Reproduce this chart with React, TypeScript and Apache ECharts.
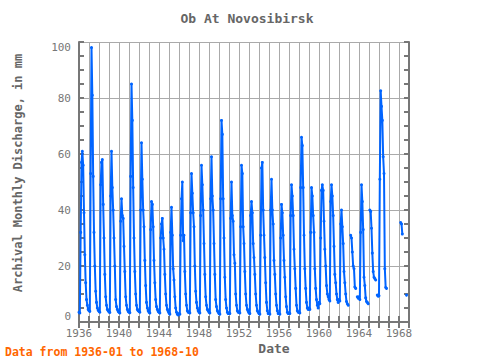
import React, { useEffect, useRef } from "react";
import * as echarts from "echarts";

const START_YEAR = 1936;
const X_MIN = 1936;
const X_MAX = 1969;
const Y_MIN = 0;
const Y_MAX = 100;
const LABEL_YEARS = [1936, 1940, 1944, 1948, 1952, 1956, 1960, 1964, 1968];

// Monthly values, Jan..Dec, null = missing
const d1936_1941 = [
  3.5, 3.2, 32, 57, 61, 56, 39, 24, 14, 8, 6, 4.5,
  4, 3.8, 53, 98, 81, 52, 32, 20, 11, 7, 5, 4.2,
  3.8, 3.5, 49, 57, 58, 42, 30, 17, 9, 6, 4.5, 4,
  3.6, 3.4, 45, 61, 48, 40, 30, 20, 8, 5.5, 4.5, 3.8,
  3.5, 3.2, 36, 44, 38, 37, 27, 18, 9, 6, 4.5, 3.8,
  3.5, 3.3, 52, 85, 72, 48, 30, 18, 10, 6, 4.5, 4,
];
const d1942_1947 = [
  3.8, 3.5, 40, 64, 51, 40, 34, 22, 13, 7, 5, 4,
  3.5, 3.2, 33, 43, 42, 34, 22, 14, 8, 5.5, 4.5, 3.8,
  3.5, 3.2, 30, 35, 37, 30, 26, 17, 10, 6, 4.5, 3.8,
  3.2, 2.8, 32, 41, 31, 19, 15, 9, 5, 3.5, 2.8, 2.5,
  3, 2.8, 31, 44, 50, 29, 31, 18, 10, 6, 4, 3.5,
  3.5, 3.2, 39, 53, 46, 39, 34, 20, 11, 7, 5, 4,
];
const d1948_1953 = [
  3.5, 3.2, 38, 56, 49, 40, 28, 17, 9, 6, 4.5, 4,
  3.5, 3.2, 44, 59, 45, 40, 28, 17, 8, 5.5, 4, 3.5,
  3, 2.8, 44, 72, 67, 44, 30, 16, 8, 5, 3.5, 3,
  3.2, 3, 37, 50, 38, 36, 24, 21, 10, 6, 4, 3.5,
  3.5, 3.2, 34, 56, 53, 34, 28, 18, 10, 6, 4.5, 3.8,
  3.2, 3, 38, 43, 39, 28, 23, 17, 10, 6, 4, 3.5,
];
const d1954_1959 = [
  3, 2.8, 31, 55, 57, 40, 31, 23, 14, 7, 4, 3,
  3, 2.8, 40, 51, 40, 35, 22, 17, 10, 6, 4, 3,
  3, 2.8, 30, 42, 39, 31, 22, 16, 9, 5.5, 3.5, 3,
  3.2, 3, 38, 49, 45, 38, 26, 19, 12, 6, 4, 3.5,
  3.5, 3.2, 48, 66, 63, 48, 31, 19, 12, 7, 5, 4.5,
  5, 4.5, 32, 48, 45, 38, 32, 19, 12, 8, 6, 5,
];
const d1960_1964 = [
  7, 6.5, 30, 47, 49, 47, 36, 26, 20, 13, 10, 9,
  8, 7.5, 43, 49, 45, 38, 27, 17, 14, 10, 8, 7,
  8, 7.5, 35, 40, 34, 28, 18, 14, 10, 7.3, 6.5, 6,
  null, null, 31, 30, 25, 20, 19, 12.5, 12, null, 9, 8.5,
  9, 8, 32, 49, 43, 33, 16, 13, 8.6, 7.3, 7, 6.5,
];
const d1965_1968 = [
  null, 40, 39.5, 33.5, 24.6, 18, 16, 15.5, 15, null, 9.6, 9.2,
  9.4, 51, 82.6, 77, 72, 59, 53, 19, 12.3, 12, null, null,
  null, null, null, null, null, null, null, null, null, null, null, null,
  null, null, 35.5, 35, 31.4, null, null, null, null, 9.6,
];

const discharge: (number | null)[] = [
  ...d1936_1941,
  ...d1942_1947,
  ...d1948_1953,
  ...d1954_1959,
  ...d1960_1964,
  ...d1965_1968,
];

const MONO = '"DejaVu Sans Mono", monospace';

export default function App() {
  const ref = useRef<HTMLDivElement>(null);

  useEffect(() => {
    if (!ref.current) return;
    const chart = echarts.init(ref.current, undefined, { renderer: "svg" });
    const points = discharge.map((v, i) => [START_YEAR + i / 12, v]);

    const frame = { show: true, lineStyle: { color: "#777", width: 2 } };
    const tick = { show: true, inside: true, length: 6, lineStyle: { color: "#777", width: 2 } };
    const ytick = { show: true, inside: true, length: 5, lineStyle: { color: "#777", width: 2 } };

    chart.setOption({
      animation: false,
      backgroundColor: "#fff",
      grid: { left: 79, right: 71, top: 42, bottom: 38, containLabel: false },
      xAxis: [
        {
          type: "value",
          min: X_MIN,
          max: X_MAX,
          interval: 1,
          position: "bottom",
          axisLine: frame,
          axisTick: tick,
          splitLine: { show: true, lineStyle: { color: "#aaa", width: 1 } },
          axisLabel: {
            show: true,
            margin: 6,
            color: "#777",
            fontFamily: MONO,
            fontSize: 11,
            formatter: (v: number) => (LABEL_YEARS.includes(v) ? String(v) : ""),
          },
        },
        {
          type: "value",
          min: X_MIN,
          max: X_MAX,
          interval: 1,
          position: "top",
          axisLine: frame,
          axisTick: tick,
          splitLine: { show: false },
          axisLabel: { show: false },
        },
      ],
      yAxis: [
        {
          type: "value",
          min: Y_MIN,
          max: Y_MAX,
          interval: 20,
          position: "left",
          axisLine: frame,
          axisTick: ytick,
          minorTick: { show: true, splitNumber: 4, length: 5, lineStyle: { color: "#777", width: 2 } },
          splitLine: { show: true, lineStyle: { color: "#aaa", width: 1 } },
          axisLabel: {
            margin: 8,
            color: "#777",
            fontFamily: MONO,
            fontSize: 11,
            verticalAlignMinLabel: "bottom",
            verticalAlignMaxLabel: "top",
          },
        },
        {
          type: "value",
          min: Y_MIN,
          max: Y_MAX,
          interval: 20,
          position: "right",
          axisLine: frame,
          axisTick: ytick,
          minorTick: { show: true, splitNumber: 4, length: 5, lineStyle: { color: "#777", width: 2 } },
          splitLine: { show: false },
          axisLabel: { show: false },
        },
      ],
      series: [
        {
          type: "line",
          xAxisIndex: 0,
          yAxisIndex: 0,
          data: points,
          connectNulls: false,
          symbol: "circle",
          symbolSize: 3,
          showSymbol: true,
          itemStyle: { color: "#0064ff" },
          lineStyle: { color: "#0064ff", width: 2 },
        },
      ],
      graphic: [
        {
          type: "text",
          x: 247,
          y: 18,
          style: {
            text: "Ob At Novosibirsk",
            fill: "#666",
            font: `bold 13px ${MONO}`,
            textAlign: "center",
            textVerticalAlign: "middle",
          },
        },
        {
          type: "text",
          x: 18,
          y: 173,
          rotation: Math.PI / 2,
          style: {
            text: "Archival Monthly Discharge, in mm",
            fill: "#666",
            font: `bold 12px ${MONO}`,
            textAlign: "center",
            textVerticalAlign: "middle",
          },
        },
        {
          type: "text",
          x: 274,
          y: 348,
          style: {
            text: "Date",
            fill: "#666",
            font: `bold 13px ${MONO}`,
            textAlign: "center",
            textVerticalAlign: "middle",
          },
        },
        {
          type: "text",
          x: 5,
          y: 352,
          style: {
            text: "Data from 1936-01 to 1968-10",
            fill: "#ff6600",
            font: `bold 11.5px ${MONO}`,
            textAlign: "left",
            textVerticalAlign: "middle",
          },
        },
      ],
    });
    return () => chart.dispose();
  }, []);

  return <div ref={ref} style={{ width: 480, height: 360, position: "absolute", left: 0, top: 0 }} />;
}
